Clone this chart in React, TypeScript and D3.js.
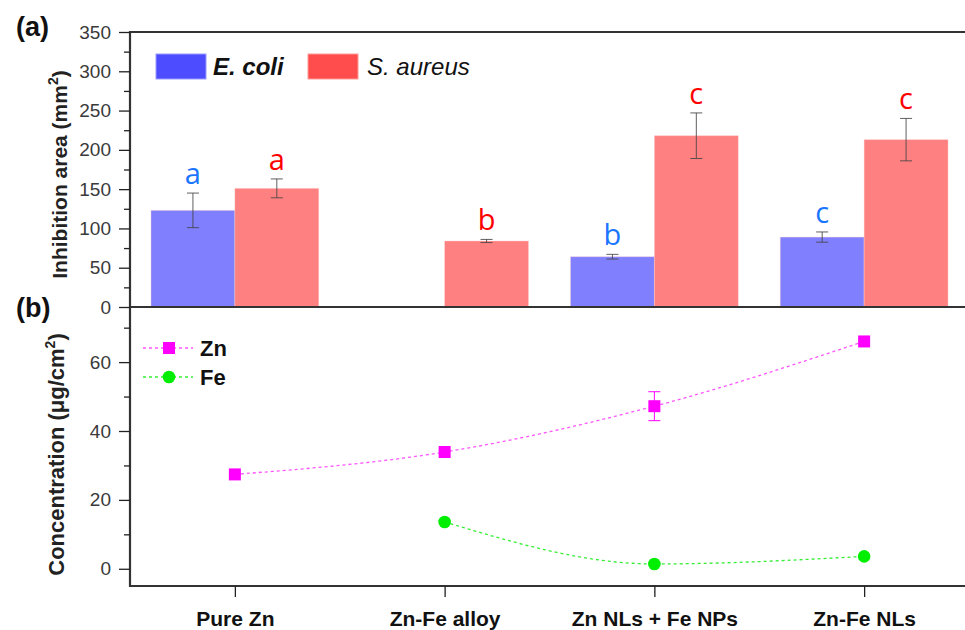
import React, { useEffect, useRef } from "react";
import * as d3 from "d3";

const categories = ["Pure Zn", "Zn-Fe alloy", "Zn NLs + Fe NPs", "Zn-Fe NLs"];
const ecoli = [123, null, 64, 89];
const ecoliErr = [22, null, 3, 6.5];
const ecoliLetters = ["a", "", "b", "c"];
const saureus = [151, 84, 218, 213];
const saureusErr = [12, 2, 29, 27];
const saureusLetters = ["a", "b", "c", "c"];
const zn = [27.4, 33.9, 47.2, 66];
const znErr = [0, 0, 4.2, 0];
const fe = [null, 13.6, 1.4, 3.6];
const topTicks = [0, 50, 100, 150, 200, 250, 300, 350];
const topMinor = [25, 75, 125, 175, 225, 275, 325];
const botTicks = [0, 20, 40, 60];
const botMinor = [10, 30, 50, 70];

const W = 965;
const H = 630;
const left = 130;
const right = 969;
const top = 32;
const mid = 307;
const bottom = 586;
const font = "'Liberation Sans', Arial, sans-serif";

export default function App() {
  const yAxisTop = useRef<SVGGElement>(null);
  const yAxisBot = useRef<SVGGElement>(null);
  const xAxisBot = useRef<SVGGElement>(null);

  const x = d3.scaleBand().domain(categories).range([left, right]).paddingInner(0.2).paddingOuter(0.1);
  const xs = d3.scaleBand().domain(["ecoli", "saureus"]).range([0, x.bandwidth()]);
  const yT = d3.scaleLinear().domain([0, 350]).range([mid, top]);
  const yB = d3.scaleLinear().domain([-5, 76]).range([bottom, mid]);
  const cx = (c: string) => (x(c) as number) + x.bandwidth() / 2;

  useEffect(() => {
    const styleAxis = (g: any) => {
      g.select(".domain").remove();
      g.selectAll("line").attr("stroke", "#222").attr("stroke-width", 1.3);
      g.selectAll("text").attr("fill", "#3a3a3a").style("font-family", font).style("font-size", "19px");
    };
    const gt = d3.select(yAxisTop.current);
    gt.selectAll("*").remove();
    gt.append("g").call(d3.axisLeft(yT).tickValues(topTicks).tickSize(11).tickPadding(8)).call(styleAxis);
    gt.append("g").call(d3.axisLeft(yT).tickValues(topMinor).tickSize(6).tickFormat(() => "")).call(styleAxis);

    const gb = d3.select(yAxisBot.current);
    gb.selectAll("*").remove();
    gb.append("g").call(d3.axisLeft(yB).tickValues(botTicks).tickSize(11).tickPadding(8)).call(styleAxis);
    gb.append("g").call(d3.axisLeft(yB).tickValues(botMinor).tickSize(6).tickFormat(() => "")).call(styleAxis);

    const xb = d3.select(xAxisBot.current);
    xb.selectAll("*").remove();
    const xp = d3.scalePoint().domain(categories).range([cx(categories[0]), cx(categories[3])]);
    xb.call(d3.axisBottom(xp).tickSize(11).tickPadding(14)).call(styleAxis);
    xb.selectAll("text").attr("fill", "#111").style("font-size", "21px").style("font-weight", "bold");
  }, []);

  const series = [
    { key: "ecoli", vals: ecoli, errs: ecoliErr, letters: ecoliLetters, fill: "#8080ff", letterColor: "#1a75ff" },
    { key: "saureus", vals: saureus, errs: saureusErr, letters: saureusLetters, fill: "#ff8080", letterColor: "#ff0000" },
  ];

  const znLine = d3.line<number>()
    .x((_, i) => cx(categories[i]))
    .y((d) => yB(d))
    .curve(d3.curveMonotoneX);
  const feLine = d3.line<number | null>()
    .defined((d) => d != null)
    .x((_, i) => cx(categories[i]))
    .y((d) => yB(d as number))
    .curve(d3.curveMonotoneX);

  return (
    <div style={{ position: "absolute", left: 0, top: 0 }}>
      <svg width={W} height={H} style={{ display: "block", background: "#fff" }}>
        {/* bars */}
        {series.map((s) =>
          categories.map((c, i) => {
            const v = s.vals[i];
            if (v == null) return null;
            const bx = (x(c) as number) + (xs(s.key) as number);
            const e = s.errs[i] as number;
            const mx = bx + xs.bandwidth() / 2;
            return (
              <g key={s.key + c}>
                <rect x={bx} y={yT(v)} width={xs.bandwidth()} height={yT(0) - yT(v)} fill={s.fill} stroke="#ffd0d0" strokeOpacity={0.5} strokeWidth={0.8} />
                <g stroke="#444" strokeWidth={1} strokeOpacity={0.85}>
                  <line x1={mx} x2={mx} y1={yT(v + e)} y2={yT(v - e)} />
                  <line x1={mx - 6} x2={mx + 6} y1={yT(v + e)} y2={yT(v + e)} />
                  <line x1={mx - 6} x2={mx + 6} y1={yT(v - e)} y2={yT(v - e)} />
                </g>
                <text x={mx} y={yT(v + e) - 9} textAnchor="middle" fill={s.letterColor} fontFamily="'Open Sans', sans-serif" fontSize={29}>
                  {s.letters[i]}
                </text>
              </g>
            );
          })
        )}

        {/* frames */}
        <g fill="none" stroke="#333" strokeWidth={2.2}>
          <path d={`M${right + 10},${top}H${left}V${bottom}H${right + 10}`} />
          <line x1={left} x2={right + 10} y1={mid} y2={mid} />
        </g>

        <g ref={yAxisTop} transform={`translate(${left},0)`} />
        <g ref={yAxisBot} transform={`translate(${left},0)`} />
        <g ref={xAxisBot} transform={`translate(0,${bottom})`} />

        {/* top legend */}
        <rect x={156} y={54} width={50} height={25} fill="#4d4dff" stroke="#9a9aff" strokeWidth={1} />
        <text x={213} y={75} fontFamily={font} fontSize={24} fontStyle="italic" fontWeight="bold" fill="#111">E. coli</text>
        <rect x={308} y={54} width={50} height={25} fill="#ff4d4d" stroke="#ff9a9a" strokeWidth={1} />
        <text x={367} y={75} fontFamily={font} fontSize={24} fontStyle="italic" fill="#111">S. aureus</text>

        {/* lines */}
        <path d={znLine(zn) || ""} fill="none" stroke="#ff55ff" strokeWidth={1.3} strokeDasharray="3,3" />
        <path d={feLine(fe) || ""} fill="none" stroke="#33ee33" strokeWidth={1.3} strokeDasharray="3,3" />
        {zn.map((d, i) => {
          const px = cx(categories[i]);
          const e = znErr[i];
          return (
            <g key={"zn" + i}>
              {e > 0 && (
                <g stroke="#ff00ff" strokeWidth={1}>
                  <line x1={px} x2={px} y1={yB(d + e)} y2={yB(d - e)} />
                  <line x1={px - 6} x2={px + 6} y1={yB(d + e)} y2={yB(d + e)} />
                  <line x1={px - 6} x2={px + 6} y1={yB(d - e)} y2={yB(d - e)} />
                </g>
              )}
              <rect x={px - 6} y={yB(d) - 6} width={12} height={12} fill="#ff00ff" />
            </g>
          );
        })}
        {fe.map((d, i) =>
          d == null ? null : <circle key={"fe" + i} cx={cx(categories[i])} cy={yB(d)} r={6.3} fill="#00ee00" />
        )}

        {/* bottom legend */}
        <line x1={143} x2={193} y1={348} y2={348} stroke="#ff55ff" strokeWidth={1.3} strokeDasharray="3,3" />
        <rect x={163} y={342} width={12} height={12} fill="#ff00ff" />
        <text x={200} y={356} fontFamily={font} fontSize={22} fontWeight="bold" fill="#111">Zn</text>
        <line x1={143} x2={193} y1={377} y2={377} stroke="#33ee33" strokeWidth={1.3} strokeDasharray="3,3" />
        <circle cx={169} cy={377} r={6.3} fill="#00ee00" />
        <text x={200} y={385} fontFamily={font} fontSize={22} fontWeight="bold" fill="#111">Fe</text>

        {/* axis titles */}
        <text transform={`translate(67,${(top + mid) / 2 + 5}) rotate(-90)`} textAnchor="middle" fontFamily={font} fontSize={21} fontWeight="bold" fill="#222">
          Inhibition area (mm<tspan dy={-9} fontSize={14}>2</tspan><tspan dy={9}>)</tspan>
        </text>
        <text transform={`translate(64,${(mid + bottom) / 2 + 8}) rotate(-90)`} textAnchor="middle" fontFamily={font} fontSize={22} fontWeight="bold" fill="#222">
          Concentration (μg/cm<tspan dy={-9} fontSize={14}>2</tspan><tspan dy={9}>)</tspan>
        </text>

        {/* panel labels */}
        <text x={16} y={36} fontFamily={font} fontSize={27} fontWeight="bold" fill="#111">(a)</text>
        <text x={16} y={317} fontFamily={font} fontSize={27} fontWeight="bold" fill="#111">(b)</text>
      </svg>
    </div>
  );
}
